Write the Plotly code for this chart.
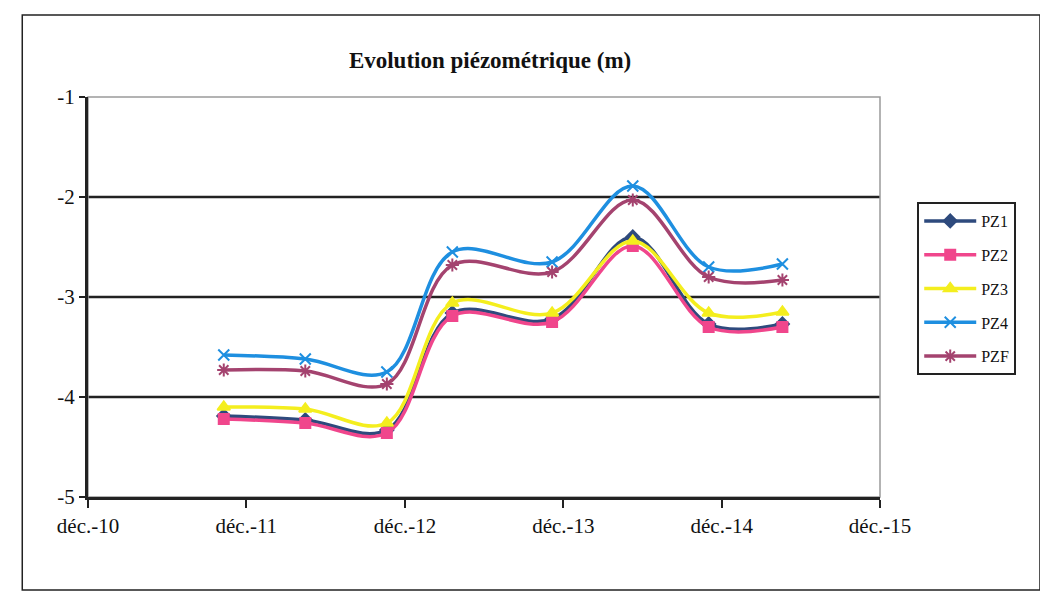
import plotly.graph_objects as go

# ---- data ----
dates = ["2011-10-10", "2012-04-15", "2012-10-20", "2013-03-20",
         "2013-11-05", "2014-05-10", "2014-11-01", "2015-04-20"]
pz1 = [-4.19, -4.23, -4.33, -3.16, -3.22, -2.40, -3.27, -3.27]
pz2 = [-4.22, -4.26, -4.36, -3.19, -3.25, -2.49, -3.30, -3.30]
pz3 = [-4.10, -4.12, -4.26, -3.06, -3.16, -2.44, -3.16, -3.15]
pz4 = [-3.58, -3.62, -3.75, -2.55, -2.65, -1.89, -2.70, -2.67]
pzf = [-3.73, -3.74, -3.87, -2.68, -2.75, -2.03, -2.80, -2.83]

tick_dates = ["2010-12-01", "2011-12-01", "2012-12-01", "2013-12-01",
              "2014-12-01", "2015-12-01"]
tick_labels = ["déc.-10", "déc.-11", "déc.-12", "déc.-13", "déc.-14", "déc.-15"]
y_ticks = [-5, -4, -3, -2, -1]
grid_levels = [-4, -3, -2]

series = [
    ("PZ1", pz1, "#2E4A7D", "diamond", 10),
    ("PZ2", pz2, "#F0468C", "square", 10),
    ("PZ3", pz3, "#F4EE1E", "triangle-up", 11),
    ("PZ4", pz4, "#1E8FE0", "x-thin", 11),
    ("PZF", pzf, "#A4436F", "asterisk", 11),
]

SERIF = "Liberation Serif, Times New Roman, serif"

fig = go.Figure()
for name, vals, col, sym, size in series:
    fig.add_trace(go.Scatter(
        x=dates, y=vals, name=name, mode="lines+markers",
        line=dict(color=col, width=3.5, shape="spline", smoothing=1.0),
        marker=dict(symbol=sym, size=size, color=col,
                    line=dict(color=col, width=2)),
        legendgroup=name,
    ))

# horizontal gridlines
for g in grid_levels:
    fig.add_shape(type="line", xref="paper", yref="y", x0=0, x1=1, y0=g, y1=g,
                  line=dict(color="#222222", width=2.5), layer="below")

# plot-area border (grey) and outer chart frame
fig.add_shape(type="rect", xref="paper", yref="paper", x0=0, x1=1, y0=0, y1=1,
              line=dict(color="#9a9a9a", width=1.5), layer="below")
fig.add_shape(type="rect", xref="paper", yref="paper",
              x0=-0.083, x1=1.202, y0=-0.2325, y1=1.205,
              line=dict(color="#222222", width=1.5))

fig.update_layout(
    width=1048, height=600,
    margin=dict(l=80, r=176, t=89, b=111),
    paper_bgcolor="white", plot_bgcolor="white",
    font=dict(family=SERIF, color="#111111", size=21),
    title=dict(text="<b>Evolution piézométrique (m)</b>",
               x=0.46, xanchor="center", y=0.913, yanchor="middle",
               font=dict(family=SERIF, size=23, color="#111111")),
    legend=dict(x=1.047, xanchor="left", y=0.7375, yanchor="top",
                bordercolor="#222222", borderwidth=2,
                font=dict(family=SERIF, size=16, color="#111111"),
                tracegroupgap=10, itemwidth=52, bgcolor="white"),
    showlegend=True,
)
fig.update_xaxes(
    type="date", range=[tick_dates[0], tick_dates[-1]],
    tickvals=tick_dates, ticktext=tick_labels,
    showgrid=False, zeroline=False,
    showline=True, linecolor="#222222", linewidth=3,
    ticks="outside", ticklen=8, tickwidth=2, tickcolor="#222222",
    tickfont=dict(family=SERIF, size=21),
)
fig.update_yaxes(
    range=[-5, -1], tickvals=y_ticks, ticktext=[str(v) for v in y_ticks],
    showgrid=False, zeroline=False,
    showline=True, linecolor="#222222", linewidth=3,
    ticks="outside", ticklen=6, tickwidth=2, tickcolor="#222222",
    tickfont=dict(family=SERIF, size=21),
)

fig.write_html("out.html")
